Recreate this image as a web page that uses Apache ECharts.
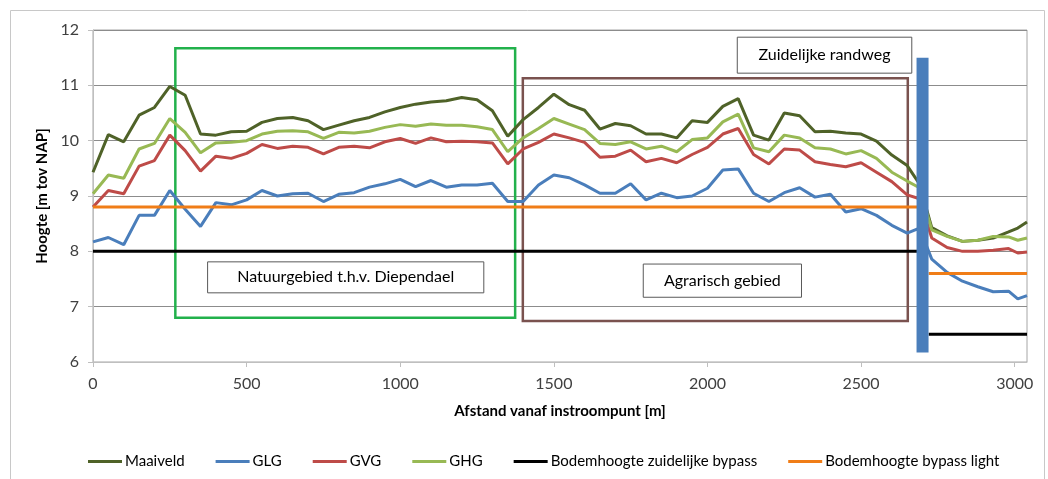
<!DOCTYPE html>
<html>
<head>
<meta charset="utf-8">
<script src="https://cdn.jsdelivr.net/npm/echarts@6/dist/echarts.min.js"></script>
<style>
  html, body { margin: 0; padding: 0; background: #fff; }
  #chart { width: 1048px; height: 479px; }
</style>
</head>
<body>
<div id="chart"></div>
<script>
// afstand vanaf instroompunt [m]
const afstand = [
  0, 50, 100, 150, 200, 250, 300, 350, 400, 450,
  500, 550, 600, 650, 700, 750, 800, 850, 900, 950,
  1000, 1050, 1100, 1150, 1200, 1250, 1300, 1350, 1400, 1450,
  1500, 1550, 1600, 1650, 1700, 1750, 1800, 1850, 1900, 1950,
  2000, 2050, 2100, 2150, 2200, 2250, 2300, 2350, 2400, 2450,
  2500, 2550, 2600, 2650,
  2690, 2730, 2780, 2830, 2880, 2930, 2980, 3010, 3040
];

const maaiveld = [
  9.43, 10.11, 9.98, 10.46, 10.6, 10.98, 10.82, 10.12, 10.1, 10.16,
  10.17, 10.33, 10.4, 10.42, 10.36, 10.2, 10.28, 10.36, 10.42, 10.52,
  10.6, 10.66, 10.7, 10.72, 10.78, 10.74, 10.54, 10.08, 10.38, 10.6,
  10.84, 10.65, 10.55, 10.21, 10.31, 10.27, 10.12, 10.12, 10.05, 10.36,
  10.33, 10.62, 10.76, 10.1, 10.01, 10.5, 10.45, 10.16, 10.17, 10.14,
  10.12, 9.99, 9.74, 9.55,
  9.22, 8.43, 8.28, 8.18, 8.2, 8.24, 8.35, 8.42, 8.53
];

const glg = [
  8.17, 8.25, 8.12, 8.65, 8.65, 9.1, 8.76, 8.45, 8.88, 8.84,
  8.93, 9.1, 9.0, 9.04, 9.05, 8.9, 9.03, 9.06, 9.16, 9.22,
  9.3, 9.17, 9.28, 9.16, 9.2, 9.2, 9.23, 8.9, 8.9, 9.2,
  9.38, 9.33, 9.2, 9.05, 9.05, 9.22, 8.93, 9.05, 8.97, 9.0,
  9.14, 9.47, 9.49, 9.05, 8.9, 9.06, 9.15, 8.98, 9.03, 8.71,
  8.77, 8.65, 8.47, 8.33,
  8.42, 7.86, 7.62, 7.46, 7.36, 7.27, 7.28, 7.14, 7.2
];

const gvg = [
  8.8, 9.1, 9.04, 9.54, 9.64, 10.1, 9.82, 9.45, 9.72, 9.68,
  9.77, 9.93, 9.86, 9.9, 9.88, 9.76, 9.88, 9.9, 9.87, 9.98,
  10.04, 9.95, 10.05, 9.98, 9.99, 9.98, 9.96, 9.58, 9.85, 9.97,
  10.12, 10.05, 9.97, 9.7, 9.72, 9.83, 9.62, 9.68, 9.6, 9.75,
  9.88, 10.12, 10.22, 9.75, 9.58, 9.85, 9.83, 9.62, 9.57, 9.53,
  9.6, 9.43, 9.26, 9.02,
  8.95, 8.24, 8.07, 8.0, 8.0, 8.02, 8.05, 7.97, 7.99
];

const ghg = [
  9.04, 9.38, 9.32, 9.85, 9.95, 10.4, 10.15, 9.78, 9.96, 9.97,
  10.0, 10.12, 10.17, 10.18, 10.16, 10.04, 10.15, 10.14, 10.17, 10.24,
  10.29, 10.26, 10.3, 10.28, 10.28, 10.25, 10.2, 9.8, 10.05, 10.22,
  10.4, 10.3, 10.2, 9.95, 9.93, 9.98, 9.85, 9.9, 9.8, 10.02,
  10.05, 10.34, 10.48, 9.87, 9.8, 10.1, 10.05, 9.87, 9.85, 9.76,
  9.82, 9.68, 9.43, 9.27,
  9.15, 8.39, 8.27, 8.18, 8.2, 8.27, 8.26, 8.2, 8.24
];

// bodemhoogtes (null = onderbreking bij de randweg)
const zuidBypassX = [0, 2700, 2700, 2720, 3040];
const zuidBypassY = [8.0, 8.0, null, 6.5, 6.5];
const lightBypassX = [0, 2700, 2700, 2720, 3040];
const lightBypassY = [8.8, 8.8, null, 7.6, 7.6];

const pairs = (xs, ys) => xs.map((x, i) => [x, ys[i] == null ? '-' : ys[i]]);

const FONT = 'Lato, "Open Sans", sans-serif';

const chart = echarts.init(document.getElementById('chart'));

const lineSerie = (name, xs, ys, color, width) => ({
  name: name,
  type: 'line',
  data: pairs(xs, ys),
  showSymbol: false,
  symbol: 'none',
  connectNulls: false,
  color: color,
  lineStyle: { color: color, width: width },
  silent: true,
  z: 2
});

const boxStyle = {
  color: '#fff',
  borderColor: '#595959',
  borderWidth: 1
};
const boxLabel = {
  show: true,
  position: 'inside',
  color: '#000',
  fontSize: 16,
  fontFamily: FONT
};

chart.setOption({
  animation: false,
  backgroundColor: '#fff',
  textStyle: { fontFamily: FONT },
  grid: {
    left: 93, right: 21, top: 30, bottom: 117,
    show: true, borderColor: '#a6a6a6', borderWidth: 1
  },
  graphic: [{
    type: 'rect',
    shape: { x: 10.5, y: 10.5, width: 1034, height: 490 },
    style: { fill: 'none', stroke: '#c8c8c8', lineWidth: 1 },
    silent: true, z: -1
  }],
  legend: {
    data: ['Maaiveld', 'GLG', 'GVG', 'GHG', 'Bodemhoogte zuidelijke bypass', 'Bodemhoogte bypass light'],
    top: 449,
    left: 83,
    icon: 'rect',
    itemWidth: 34,
    itemHeight: 3,
    itemGap: 31,
    textStyle: { fontSize: 15, color: '#000', fontFamily: FONT, padding: [0, 0, 0, -2] }
  },
  xAxis: {
    type: 'value',
    min: 0,
    max: 3040,
    interval: 500,
    name: 'Afstand vanaf instroompunt [m]',
    nameLocation: 'middle',
    nameGap: 42,
    nameTextStyle: { fontWeight: 'bold', fontSize: 15, color: '#000' },
    axisLine: { show: true, lineStyle: { color: '#bfbfbf', width: 1 } },
    axisTick: { show: true, length: 5, lineStyle: { color: '#bfbfbf' } },
    axisLabel: {
      color: '#404040', fontSize: 16, margin: 14, showMaxLabel: false,
      formatter: v => String(v)
    },
    splitLine: { show: false }
  },
  yAxis: {
    type: 'value',
    min: 6,
    max: 12,
    interval: 1,
    name: 'Hoogte [m tov NAP]',
    nameLocation: 'middle',
    nameGap: 42,
    nameTextStyle: { fontWeight: 'bold', fontSize: 15, color: '#000' },
    axisLine: { show: true, lineStyle: { color: '#bfbfbf', width: 1 } },
    axisTick: { show: true, length: 5, lineStyle: { color: '#bfbfbf' } },
    axisLabel: { color: '#404040', fontSize: 16, margin: 14 },
    splitLine: { show: true, lineStyle: { color: '#8c8c8c', width: 1 } }
  },
  series: [
    lineSerie('Maaiveld', afstand, maaiveld, '#4f6228', 3),
    lineSerie('GLG', afstand, glg, '#4a7ebb', 3),
    lineSerie('GVG', afstand, gvg, '#be4b48', 3),
    lineSerie('GHG', afstand, ghg, '#98b954', 3),
    lineSerie('Bodemhoogte zuidelijke bypass', zuidBypassX, zuidBypassY, '#000000', 3),
    lineSerie('Bodemhoogte bypass light', lightBypassX, lightBypassY, '#f07d17', 3),
    // annotaties: gebieden, tekstvakken en de randweg
    {
      name: 'annotaties',
      type: 'line',
      data: [[2700, 6.17], [2700, 11.5]],
      showSymbol: false,
      symbol: 'none',
      lineStyle: { color: '#4a7ebb', width: 12, cap: 'butt' },
      silent: true,
      z: 5,
      markArea: {
        silent: true,
        data: [
          [{ coord: [268, 11.67], itemStyle: { color: 'rgba(0,0,0,0)', borderColor: '#22b14c', borderWidth: 2.5 } },
           { coord: [1374, 6.8] }],
          [{ coord: [1399, 11.13], itemStyle: { color: 'rgba(0,0,0,0)', borderColor: '#7a524f', borderWidth: 2.5 } },
           { coord: [2652, 6.74] }],
          [{ name: 'Natuurgebied t.h.v. Diependael', coord: [373, 7.81], itemStyle: boxStyle, label: boxLabel },
           { coord: [1272, 7.25] }],
          [{ name: 'Agrarisch gebied', coord: [1791, 7.77], itemStyle: boxStyle, label: boxLabel },
           { coord: [2306, 7.17] }],
          [{ name: 'Zuidelijke randweg', coord: [2097, 11.87], itemStyle: boxStyle, label: boxLabel },
           { coord: [2665, 11.22] }]
        ]
      }
    }
  ]
});
</script>
</body>
</html>
